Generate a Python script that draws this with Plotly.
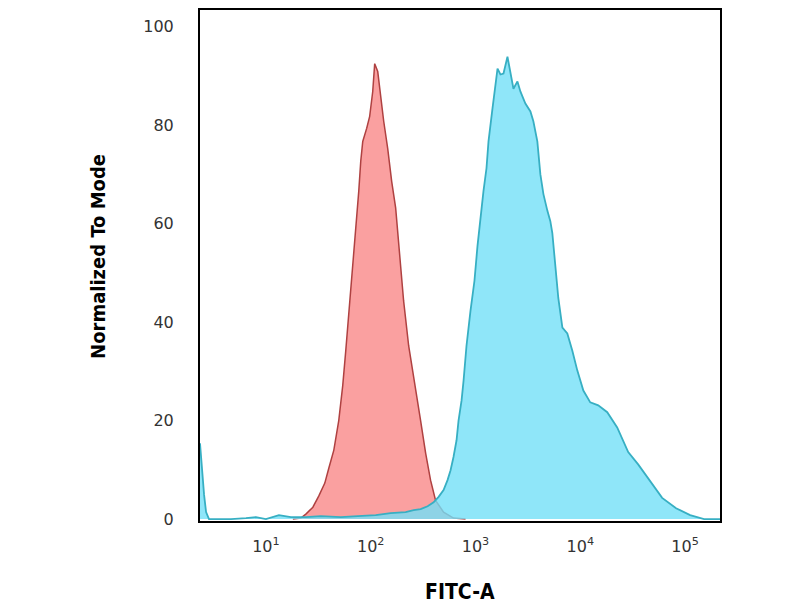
import plotly.graph_objects as go

# isotype control (red) - log10 FITC-A and % of mode
iso_log = [1.257, 1.333, 1.381, 1.448, 1.505, 1.562, 1.600, 1.648, 1.695, 1.733,
           1.762, 1.790, 1.829, 1.857, 1.886, 1.905, 1.924, 1.962, 1.990, 2.019,
           2.038, 2.067, 2.095, 2.124, 2.162, 2.200, 2.238, 2.276, 2.314, 2.362,
           2.410, 2.476, 2.524, 2.571, 2.619, 2.695, 2.790, 2.905]
iso_pct = [0.0, 0.2, 1.0, 2.4, 4.7, 7.3, 10.3, 14.0, 20.0, 27.1,
           34.2, 41.3, 50.4, 58.5, 66.6, 72.7, 76.7, 79.4, 81.8, 86.8,
           92.5, 90.9, 85.8, 80.8, 75.3, 68.6, 63.2, 54.5, 44.3, 35.2,
           29.1, 20.0, 13.4, 7.9, 3.8, 1.4, 0.2, 0.0]

# stained sample (blue)
ab_log = [0.371, 0.390, 0.410, 0.429, 0.457, 0.524, 0.667, 0.810, 0.905, 1.000,
          1.124, 1.238, 1.381, 1.524, 1.714, 1.876, 2.048, 2.190, 2.333, 2.410,
          2.476, 2.543, 2.600, 2.648, 2.695, 2.733, 2.762, 2.790, 2.819, 2.838,
          2.867, 2.886, 2.914, 2.952, 2.990, 3.019, 3.048, 3.076, 3.105, 3.124,
          3.162, 3.190, 3.210, 3.238, 3.267, 3.305, 3.333, 3.362, 3.400, 3.429,
          3.476, 3.524, 3.552, 3.590, 3.619, 3.648, 3.686, 3.714, 3.733, 3.762,
          3.790, 3.829, 3.876, 3.924, 3.971, 4.029, 4.095, 4.171, 4.257, 4.352,
          4.457, 4.552, 4.657, 4.781, 4.914, 5.048, 5.181, 5.333]
ab_pct = [15.4, 9.9, 4.9, 1.4, 0.0, 0.0, 0.0, 0.2, 0.4, 0.0,
          0.8, 0.4, 0.4, 0.6, 0.4, 0.6, 0.8, 1.2, 1.4, 1.8,
          2.0, 2.6, 3.4, 4.5, 5.9, 7.9, 9.9, 12.6, 16.0, 20.0,
          24.1, 28.1, 35.2, 42.3, 48.4, 55.5, 61.5, 66.6, 71.3, 76.7,
          83.4, 88.9, 91.5, 90.3, 90.5, 93.9, 90.5, 87.4, 88.9, 86.8,
          84.4, 82.8, 80.8, 76.7, 70.0, 66.0, 62.6, 60.5, 58.1, 51.8,
          44.9, 38.9, 37.7, 34.2, 30.2, 26.1, 23.7, 23.1, 21.7, 18.6,
          13.6, 11.1, 7.9, 4.3, 2.2, 0.8, 0.0, 0.0]

x_ticks = [10, 100, 1000, 10000, 100000]
x_ticktext = ["10<sup>1</sup>", "10<sup>2</sup>", "10<sup>3</sup>", "10<sup>4</sup>", "10<sup>5</sup>"]
y_ticks = [0, 20, 40, 60, 80, 100]

fig = go.Figure()

fig.add_trace(go.Scatter(
    x=[10 ** v for v in iso_log], y=iso_pct, mode="lines", fill="tozeroy",
    line=dict(color="rgb(175,65,65)", width=1.5),
    fillcolor="rgb(250,160,160)", name="Isotype"))

fig.add_trace(go.Scatter(
    x=[10 ** v for v in ab_log], y=ab_pct, mode="lines", fill="tozeroy",
    line=dict(color="rgb(55,175,195)", width=1.8),
    fillcolor="rgba(115,224,248,0.8)", name="Antibody"))

# the page body adds an 8px offset, so margins are shifted to compensate
fig.update_layout(
    width=800, height=600,
    margin=dict(l=192, r=88, t=0, b=87),
    paper_bgcolor="white", plot_bgcolor="white",
    showlegend=False,
    font=dict(family="DejaVu Sans", color="#333"),
    xaxis=dict(type="log", range=[0.371, 5.333], tickvals=x_ticks, ticktext=x_ticktext,
               showgrid=False, zeroline=False, showline=True, mirror=True,
               linecolor="black", linewidth=2, ticks="outside", ticklen=10,
               tickcolor="rgba(0,0,0,0)", tickfont=dict(size=16, color="#333")),
    yaxis=dict(range=[-0.4, 103.4], tickvals=y_ticks,
               showgrid=False, zeroline=False, showline=True, mirror=True,
               linecolor="black", linewidth=2, ticks="outside", ticklen=21,
               tickcolor="rgba(0,0,0,0)", tickfont=dict(size=16, color="#333")),
    annotations=[
        dict(text="<b>Normalized To Mode</b>", textangle=-90, xref="paper", yref="paper",
             x=-0.196, y=0.517, xanchor="center", yanchor="middle", showarrow=False,
             font=dict(family="DejaVu Sans Condensed", size=20, color="black")),
        dict(text="<b>FITC-A</b>", xref="paper", yref="paper",
             x=0.5, y=-0.138, xanchor="center", yanchor="middle", showarrow=False,
             font=dict(family="DejaVu Sans Condensed", size=21, color="black")),
    ],
)

fig.write_html("out.html")
